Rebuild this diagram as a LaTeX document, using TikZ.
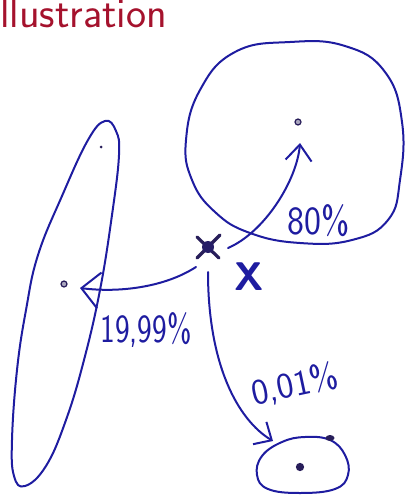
\documentclass[tikz,border=0pt]{standalone}
\usetikzlibrary{arrows.meta,shapes.geometric}
\definecolor{ink}{RGB}{30,28,160}
\definecolor{inkdark}{RGB}{40,30,90}
\definecolor{titlered}{RGB}{165,18,45}
\begin{document}
\begin{tikzpicture}[x=1pt,y=-1pt,
  inkline/.style={draw=ink, line width=2pt, line cap=round, line join=round},
  handtext/.style={text=ink, inner sep=0pt},
  dotmark/.style={circle, draw=inkdark, fill=inkdark!40, line width=1.2pt, inner sep=0pt, minimum size=6pt},
]
\useasboundingbox (0,0) rectangle (408,495);
\clip (0,0) rectangle (408,495);

% title
\node[anchor=base west, text=titlered, font=\fontsize{42.6}{48}\selectfont\sffamily, inner sep=0pt] (title) at (-11,28) {Illustration};

% big circle
\draw[inkline] plot[smooth cycle, tension=0.75] coordinates {
  (290,42) (345,46) (385,72) (402,122) (400,180) (388,220) (352,240)
  (300,243) (250,233) (215,212) (192,180) (186,140) (200,90) (235,52)};
% left elongated ellipse
\draw[inkline] plot[smooth cycle, tension=0.7] coordinates {
  (105,121) (116,131) (119,155) (112,215) (100,290) (84,360) (66,420)
  (46,466) (25,486) (14,476) (12,440) (17,370) (26,310) (38,255) (62,196) (88,140)};
% small ellipse
\draw[inkline] plot[smooth cycle, tension=0.7] coordinates {
  (262,456) (282,442) (305,437) (330,440) (345,455) (348,475) (335,489)
  (300,493) (268,489) (257,475)};

% points
\node[dotmark] (pbig) at (298,122) {};
\node[dotmark] (pleft) at (64,284) {};
\node[dotmark, minimum size=7pt, fill=inkdark] (psmall) at (300,467) {};
\node[circle, fill=inkdark, inner sep=0pt, minimum size=3pt] (ptop) at (101,147) {};
\node[ellipse, fill=inkdark, inner sep=0pt, minimum width=9pt, minimum height=6pt] (blob) at (330,438) {};

% the point x (scribbled)
\coordinate (X) at (208,247);
\draw[draw=inkdark, line width=3.2pt, line cap=round] ([shift={(-11,-10)}]X) -- ([shift={(11,11)}]X);
\draw[draw=inkdark, line width=3.2pt, line cap=round] ([shift={(-11,11)}]X) -- ([shift={(12,-12)}]X);
\fill[inkdark!80!ink] (X) circle (6pt);

% label X
\node[handtext, font=\fontsize{40}{44}\selectfont\sffamily\bfseries] (xlabel) at (249,277) {X};

% arrows
\coordinate (s1) at (228,248);
\coordinate (t1) at (300,143);
\coordinate (s2) at (196,267);
\coordinate (t2) at (80,288);
\coordinate (s3) at (208,272);
\coordinate (t3) at (273,441);
\draw[inkline, -{Straight Barb[length=16pt,width=26pt]}] (s1) .. controls (265,232) and (297,180) .. (t1);
\draw[inkline, -{Straight Barb[length=18pt,width=36pt]}] (s2) .. controls (165,287) and (120,293) .. (t2);
\draw[inkline, -{Straight Barb[length=14pt,width=26pt]}] (s3) .. controls (208,365) and (238,420) .. (t3);

% percentages
\node[handtext, font=\fontsize{40}{44}\selectfont\sffamily, xscale=0.9] (l80) at (319,221) {80\%};
\node[handtext, font=\fontsize{40}{44}\selectfont\sffamily, xscale=0.78] (l1999) at (146,330) {19,99\%};
\node[handtext, font=\fontsize{36}{40}\selectfont\sffamily, rotate=12] (l001) at (295,385) {0,01\%};
\end{tikzpicture}
\end{document}
